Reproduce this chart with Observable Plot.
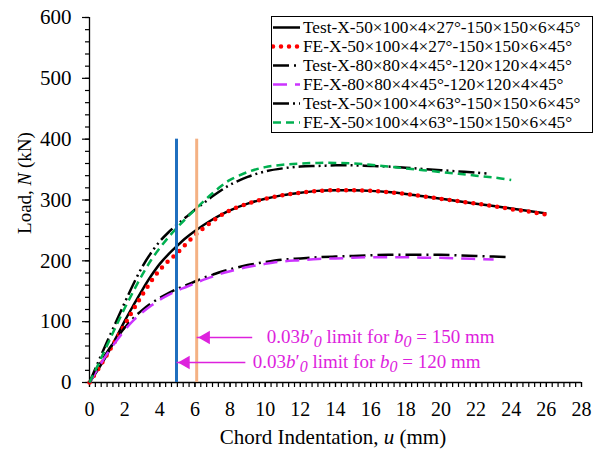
<!DOCTYPE html>
<html><head><meta charset="utf-8">
<script src="https://cdn.jsdelivr.net/npm/d3@7"></script>
<script src="https://cdn.jsdelivr.net/npm/@observablehq/plot@0.6"></script>
<style>
body{margin:0;background:#fff;}
#wrap{position:relative;width:600px;height:452px;font-family:"Liberation Serif","Times New Roman",serif;}
#legend{position:absolute;left:271px;top:16px;width:322px;height:117px;border:1.5px solid #000;background:#fff;box-sizing:border-box;padding-top:1px;}
#legend .row{display:flex;align-items:center;height:19px;font-size:17.3px;line-height:19px;white-space:nowrap;color:#000;}
#legend svg{display:block;margin-right:1px;}
</style></head>
<body><div id="wrap"></div>
<script>
// ---- data ----
const seriesNames = [
  "Test-X-50×100×4×27°-150×150×6×45°",
  "FE-X-50×100×4×27°-150×150×6×45°",
  "Test-X-80×80×4×45°-120×120×4×45°",
  "FE-X-80×80×4×45°-120×120×4×45°",
  "Test-X-50×100×4×63°-150×150×6×45°",
  "FE-X-50×100×4×63°-150×150×6×45°"
];
const uTest27 = [0,0.5,1,1.5,2,2.5,3,3.5,4,4.5,5,5.5,6,6.5,7,7.5,8,9,10,11,12,13,14,15,16,17,18,19,20,21,22,23,24,25,26];
const nTest27 = [0,22,46,73,101,127,152,175,195,211,225,238,249,259,268,276,283,294,302,308,312,315,316,316,315,313,310,306,302,298,294,290,286,282,278];
const uFE27 = [0,0.5,1,1.5,2,2.5,3,3.5,4,4.5,5,5.5,6,6.5,7,7.5,8,9,10,11,12,13,14,15,16,17,18,19,20,21,22,23,24,25,26];
const nFE27 = [0,22,46,70,95,120,144,166,185,200,213,228,242,254,265,275,283,294,302,308,312,315,316,316,315,313,310,306,302,298,294,290,285,281,276];
const uTest45 = [0,0.5,1,1.5,2,2.5,3,3.5,4,4.5,5,5.5,6,6.5,7,7.5,8,9,10,11,12,13,14,15,16,17,18,19,20,21,22,23,23.8];
const nTest45 = [0,26,50,71,90,106,119,130,139,147,154,160,166,172,177,182,186,193,198,202,204,206,207,208,209,210,210,210,210,209,208,207,206];
const uFE45 = [0,0.5,1,1.5,2,2.5,3,3.5,4,4.5,5,5.5,6,6.5,7,7.5,8,9,10,11,12,13,14,15,16,17,18,19,20,21,22,23];
const nFE45 = [0,24,47,67,86,102,115,126,136,144,151,157,163,169,174,179,183,190,195,199,201,203,204,205,206,206,206,205,205,204,203,202];
const uTest63 = [0,0.5,1,1.5,2,2.5,3,3.5,4,4.5,5,5.5,6,6.5,7,7.5,8,9,10,11,12,13,14,15,16,17,18,19,20,21,22,22.8];
const nTest63 = [0,34,67,99,131,162,190,213,232,247,260,272,284,295,306,316,325,338,347,352,355,356,357,357,356,355,353,351,349,347,345,343];
const uFE63 = [0,0.5,1,1.5,2,2.5,3,3.5,4,4.5,5,5.5,6,6.5,7,7.5,8,9,10,11,12,13,14,15,16,17,18,19,20,21,22,23,24];
const nFE63 = [0,30,61,92,122,150,177,201,221,239,255,270,284,298,311,323,333,346,354,358,360,361,361,360,358,355,352,349,346,343,340,337,333];

const xMajorTicks = [0,2,4,6,8,10,12,14,16,18,20,22,24,26,28];
const yMajorTicks = [0,100,200,300,400,500,600];

// limit lines & annotations
const limitB0 = [150, 120];
const limitU = [6.1, 4.95];
const limitTop = 400;
const arrowN = [74, 33];
const arrowTailU = [9.26, 8.87];
const labelStartU = [10.12, 9.32];

// ---- styles ----
const seriesColor = ["#000000","#FF0000","#000000","#CC33FF","#000000","#00B050"];
const seriesDash = [null,"0 8","16 5 2 5","14 8","16 4 2 4 2 4","8 5"];
const seriesWidth = [2.5,4.5,2.5,2.5,2.5,2.5];
const seriesCap = ["butt","round","butt","butt","butt","butt"];
const limitColor = ["#F4B183","#1F6FBF"];
const mag = "#DD22DD";

const seriesU = [uTest27,uFE27,uTest45,uFE45,uTest63,uFE63];
const seriesN = [nTest27,nFE27,nTest45,nFE45,nTest63,nFE63];

const lineMarks = seriesNames.map((name,i) => {
  const pts = seriesU[i].map((u,k) => ({u, n: seriesN[i][k]}));
  const opts = {x:"u", y:"n", stroke: seriesColor[i], strokeWidth: seriesWidth[i], strokeLinecap: seriesCap[i], curve:"catmull-rom"};
  if (seriesDash[i]) opts.strokeDasharray = seriesDash[i];
  return Plot.line(pts, opts);
});

const limits = limitB0.map((b,i) => ({b0:b, u:limitU[i], top:limitTop, c:limitColor[i], n:arrowN[i], tail:arrowTailU[i]}));

const xMinor = d3.range(0, 28.001, 1/3);
const yMinor = d3.range(0, 600.001, 20);

const plot = Plot.plot({
  width:600, height:452,
  marginLeft:89, marginRight:19, marginTop:17, marginBottom:70,
  style:{fontFamily:"'Liberation Serif','Times New Roman',serif", fontSize:"20px", color:"#000", background:"#fff", overflow:"visible"},
  x:{domain:[0,28], label:null},
  y:{domain:[0,600], label:null},
  color:{type:"identity"},
  marks:[
    Plot.axisX({ticks: xMinor, tickSize:5, tickFormat:()=>"", label:null, strokeWidth:1.2}),
    Plot.axisX({ticks: xMajorTicks, tickSize:5, tickPadding:14, label:null, fontSize:20, strokeWidth:1.2, tickFormat:d=>String(d)}),
    Plot.axisY({ticks: yMinor, tickSize:4, tickFormat:()=>"", label:null, strokeWidth:1.2}),
    Plot.axisY({ticks: yMajorTicks, tickSize:7, tickPadding:11, label:null, fontSize:21, strokeWidth:1.2, tickFormat:d=>String(d)}),
    Plot.ruleX([0], {stroke:"#000", strokeWidth:1.3}),
    Plot.ruleY([0], {stroke:"#000", strokeWidth:1.3}),
    ...lineMarks,
    Plot.ruleX(limits, {x:"u", y1:0, y2:"top", stroke:"c", strokeWidth:3}),
    Plot.link(limits, {x1:"tail", x2:"u", y1:"n", y2:"n", stroke:mag, strokeWidth:1.5}),
    Plot.dot(limits, {x:"u", y:"n", symbol:"triangle", rotate:-90, r:5, fill:mag, stroke:"none", dx:9.3})
  ]
});

const wrap = document.getElementById("wrap");
wrap.appendChild(plot);

const xs = plot.scale("x"), ys = plot.scale("y");
const svg = d3.select(plot);

// annotation labels
limits.forEach((d,i) => {
  const t = svg.append("text")
    .attr("x", xs.apply(labelStartU[i]))
    .attr("y", ys.apply(arrowN[i]) + 6.5)
    .attr("text-anchor","start")
    .attr("fill", mag).attr("font-size", 19)
    .attr("font-family","'Liberation Serif','Times New Roman',serif");
  t.append("tspan").text("0.03");
  t.append("tspan").attr("font-style","italic").text("b");
  t.append("tspan").text("′");
  t.append("tspan").attr("font-style","italic").attr("dy",4).attr("font-size",16).text("0");
  t.append("tspan").attr("dy",-4).text(" limit for ");
  t.append("tspan").attr("font-style","italic").text("b");
  t.append("tspan").attr("font-style","italic").attr("dy",4).attr("font-size",16).text("0");
  t.append("tspan").attr("dy",-4).text(" = " + d.b0 + " mm");
});

// axis titles
const xt = svg.append("text").attr("x", 333).attr("y", 444).attr("text-anchor","middle")
  .attr("font-size",21).attr("fill","#000");
xt.append("tspan").text("Chord Indentation, ");
xt.append("tspan").attr("font-style","italic").text("u");
xt.append("tspan").text(" (mm)");

const yt = svg.append("text").attr("transform","translate(31,183) rotate(-90)").attr("text-anchor","middle")
  .attr("font-size",19).attr("fill","#000");
yt.append("tspan").text("Load, ");
yt.append("tspan").attr("font-style","italic").text("N");
yt.append("tspan").text(" (kN)");

// legend
const leg = d3.select(wrap).append("div").attr("id","legend");
seriesNames.forEach((name,i) => {
  const row = leg.append("div").attr("class","row");
  const s = row.append("svg").attr("width",30).attr("height",19);
  const ln = s.append("line").attr("x1",1).attr("x2",28).attr("y1",9.5).attr("y2",9.5)
    .attr("stroke",seriesColor[i]).attr("stroke-width",seriesWidth[i]).attr("stroke-linecap",seriesCap[i]);
  if (seriesDash[i]) ln.attr("stroke-dasharray", seriesDash[i]);
  row.append("span").text(name);
});
</script>
</body></html>
